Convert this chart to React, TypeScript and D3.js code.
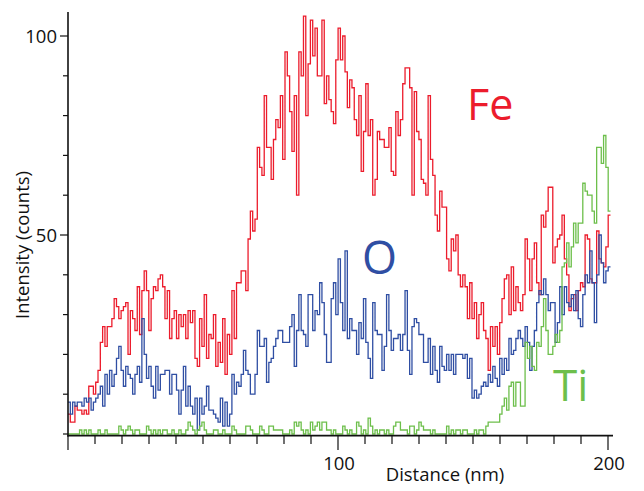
import React from "react";
import * as d3 from "d3";

// Bin width (nm) of the step profiles
const BIN_NM = 0.855;

// Fe intensity (counts) per bin
const FE_COUNTS = [
  5, 3, 3, 7, 6, 6, 5, 6, 5, 12, 12, 10, 13, 16,
  23, 27, 22,
  27, 27, 29, 34, 32, 29, 31, 32, 33, 20, 31, 29, 26, 37, 25, 36, 41, 36, 26, 34, 37, 36, 39, 40, 37, 29, 36, 24, 29, 31,
  24, 30, 27, 30, 24, 31, 28, 31, 19, 17, 29, 22, 35, 19, 25, 24, 30, 17, 23, 18, 29, 15, 25, 20, 36, 24, 38, 38, 41, 41, 36,
  49, 56, 51, 54, 72, 67, 65, 85, 72, 72, 64, 74, 79, 77, 85, 69, 96, 90, 81, 71, 85, 60, 96, 90, 105, 80, 93, 104, 95, 102,
  90, 90, 104, 83, 90, 84, 81, 78, 94, 102, 94, 100, 91, 82, 89, 87, 79, 75, 85, 66, 76, 88, 75, 79, 60, 64, 76, 74,
  74, 72, 72, 77, 66, 65, 81, 75, 79, 88, 92, 92, 87, 60, 86, 76, 74, 64, 63, 60, 85, 69, 65, 55, 51, 61, 57, 57, 44, 41, 49, 46, 50, 40, 37,
  40, 37, 29, 38, 29, 33, 24, 30, 33, 26, 24, 16, 27, 22, 27, 20, 28, 34, 39, 40, 30, 42, 31, 37, 33, 31, 35, 49, 44, 36, 44, 48,
  38, 35, 55, 52, 56, 62, 62, 43, 47, 49, 50, 55, 44, 40, 31, 34, 35, 31, 36, 38, 37, 50, 49, 39, 38, 38, 51, 44, 43, 42, 47, 55,
];

// O intensity (counts) per bin
const O_COUNTS = [
  8, 5, 8, 7, 8, 8, 7, 9, 8, 9, 6, 8, 9, 10, 12, 7, 15, 10, 16, 12, 15, 19, 22, 16, 12, 17, 15, 14, 10, 15, 17, 13, 29, 20, 14, 17, 12, 9, 17, 11, 15, 15, 16, 16, 10, 15, 15,
  11, 5, 11, 17, 7, 12, 7, 5, 9, 1, 9, 5, 7, 12, 6, 6, 5, 4, 3, 9, 2, 8, 2, 5, 15, 10, 13, 12, 15, 21, 16,
  15, 10, 10, 15, 26, 22, 22, 24, 13, 18, 19, 22, 24, 26, 26, 23, 23, 23, 27, 30, 17, 26, 35, 26, 25, 22, 35, 35, 26, 31,
  30, 38, 33, 25, 18, 18, 34, 38, 30, 44, 33, 26, 46, 24, 29, 26, 26, 20, 28, 24, 34, 23, 19, 14, 33, 26, 25, 25,
  16, 22, 35, 26, 21, 24, 24, 25, 21, 25, 36, 21, 15, 27, 29, 28, 25, 25, 18, 18, 24, 15, 22, 16, 13, 22, 17, 16, 20, 16, 20, 15, 20, 20, 20,
  19, 20, 14, 19, 9, 11, 9, 10, 12, 13, 12, 15, 13, 17, 14, 12, 19, 15, 19, 16, 24, 20, 21, 24, 26, 24, 22, 27, 23, 16, 22, 26,
  33, 36, 35, 39, 35, 31, 33, 33, 23, 28, 37, 30, 37, 33, 32, 35, 31, 36, 29, 27, 35, 40, 38, 46, 38, 28, 40, 50, 43, 38, 41, 42,
];

// Ti intensity (counts) per bin
const TI_COUNTS = [
  0, 0, 0, 0, 0, 1, 0, 1, 0, 1, 0, 0, 0, 1, 0, 0, 1, 0, 0, 0, 0, 0, 2, 1, 0, 1, 2, 1, 0, 1, 1, 0, 0, 0, 2, 1, 0, 1, 0, 1, 0, 1, 1, 0, 0, 1, 0,
  0, 1, 0, 0, 1, 3, 2, 1, 0, 1, 2, 3, 1, 0, 0, 0, 1, 1, 0, 0, 1, 0, 0, 0, 2, 1, 0, 0, 0, 0, 2,
  2, 1, 0, 0, 0, 2, 1, 0, 0, 2, 2, 1, 1, 1, 1, 0, 0, 0, 1, 0, 3, 2, 3, 1, 0, 1, 0, 3, 1, 2, 3, 1, 3, 3, 1, 1, 0, 1, 0, 0,
  0, 2, 1, 0, 1, 0, 0, 3, 2, 0, 1, 0, 4, 2, 0, 1, 0, 1,
  1, 0, 1, 0, 0, 2, 3, 3, 1, 1, 1, 0, 2, 2, 0, 1, 3, 2, 1, 1, 1, 0, 1, 0, 0, 0, 0, 0, 2, 0, 1, 0, 1, 1, 0,
  1, 1, 0, 0, 0, 1, 0, 1, 1, 0, 2, 3, 3, 3, 3, 3, 5, 7, 9, 6, 12, 13, 7, 13, 13, 7, 7, 23, 19, 22, 17, 16,
  23, 22, 27, 34, 26, 20, 20, 22, 25, 23, 26, 42, 43, 48, 42, 47, 53, 48, 53, 53, 63, 61, 60, 60, 56, 53, 72, 72, 68, 75, 67, 56,
];

const X_TICKS = d3.range(0, 201, 10);
const X_LABELS = [100, 200];
const Y_TICKS = d3.range(0, 101, 10);
const Y_LABELS = [50, 100];

const SERIES = [
  { name: "Fe", values: FE_COUNTS, color: "#ec1c2c" },
  { name: "O", values: O_COUNTS, color: "#2f4ea3" },
  { name: "Ti", values: TI_COUNTS, color: "#6dbf4b" },
];

const FONT = "'Open Sans', 'Noto Sans', sans-serif";

export default function App() {
  const W = 644;
  const H = 491;
  const x = d3.scaleLinear().domain([0, 200]).range([68, 608]);
  const y = d3.scaleLinear().domain([0, 100]).range([434, 36]);

  const line = d3
    .line<[number, number]>()
    .x((d) => x(d[0]))
    .y((d) => y(d[1]))
    .curve(d3.curveStepAfter);

  const pathFor = (vals: number[]) => {
    const pts: [number, number][] = vals.map((v, i) => [i * BIN_NM, v]);
    pts.push([vals.length * BIN_NM, vals[vals.length - 1]]);
    return line(pts) || "";
  };

  return (
    <svg
      width={W}
      height={H}
      style={{ position: "absolute", left: 0, top: 0, background: "#fff" }}
      fontFamily={FONT}
    >
      {SERIES.map((s) => (
        <path
          key={s.name}
          d={pathFor(s.values)}
          fill="none"
          stroke={s.color}
          strokeWidth={1.3}
          strokeLinejoin="miter"
        />
      ))}

      {/* axes */}
      <line x1={68} x2={68} y1={12} y2={436.5} stroke="#111" strokeWidth={1.6} />
      <line x1={67.2} x2={613} y1={435.7} y2={435.7} stroke="#111" strokeWidth={1.8} />
      {X_TICKS.map((t) => {
        const major = t % 100 === 0;
        return (
          <line
            key={"xt" + t}
            x1={x(t)}
            x2={x(t)}
            y1={435.7}
            y2={major ? 450 : 444}
            stroke="#111"
            strokeWidth={1.2}
          />
        );
      })}
      {Y_TICKS.map((t) => {
        const major = t % 50 === 0 && t > 0;
        return (
          <line
            key={"yt" + t}
            x1={major ? 60 : 63}
            x2={68}
            y1={y(t)}
            y2={y(t)}
            stroke="#111"
            strokeWidth={1.2}
          />
        );
      })}
      {X_LABELS.map((t) => (
        <text key={"xl" + t} x={x(t) + 1} y={470} textAnchor="middle" fontSize={18.5} fill="#111">
          {t}
        </text>
      ))}
      {Y_LABELS.map((t) => (
        <text key={"yl" + t} x={57} y={y(t) + 6.5} textAnchor="end" fontSize={18.5} fill="#111">
          {t}
        </text>
      ))}
      <text x={445} y={481} textAnchor="middle" fontSize={18.5} fill="#111">
        Distance (nm)
      </text>
      <text
        transform={`translate(29,245) rotate(-90)`}
        textAnchor="middle"
        fontSize={18.5}
        fill="#111"
      >
        Intensity (counts)
      </text>

      {/* series labels */}
      <text x={467} y={120} fontSize={43} fill="#ec1c2c">
        Fe
      </text>
      <text x={362} y={274} fontSize={45} fill="#2f4ea3">
        O
      </text>
      <text x={553} y={401} fontSize={44} fill="#6dbf4b">
        Ti
      </text>
    </svg>
  );
}
